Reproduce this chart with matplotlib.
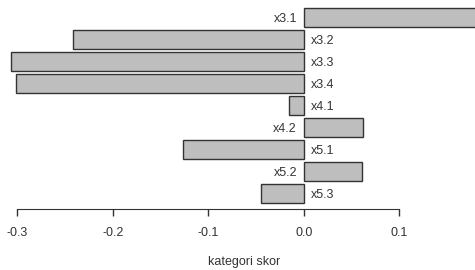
import matplotlib
matplotlib.use("Agg")
import matplotlib.pyplot as plt
import numpy as np

plt.rcParams['font.family'] = ['Liberation Sans', 'DejaVu Sans']

# category scores (top to bottom)
labels = ["x3.1", "x3.2", "x3.3", "x3.4", "x4.1", "x4.2", "x5.1", "x5.2", "x5.3"]
scores = [0.20, -0.242, -0.306, -0.301, -0.016, 0.062, -0.127, 0.061, -0.045]
ticks = [-0.3, -0.2, -0.1, 0.0, 0.1]

fig = plt.figure(figsize=(4.75, 2.7), dpi=100)
ax = fig.add_axes([0, 0, 1, 1])

pos = np.arange(len(labels))
ax.barh(pos, scores, height=0.84, color="#bebebe", edgecolor="#333333", linewidth=1.0)

for p, lab, v in zip(pos, labels, scores):
    if v >= 0:
        ax.annotate(lab, (0, p), xytext=(-5, -1), textcoords="offset points",
                    ha="right", va="center", fontsize=9, color="#333333")
    else:
        ax.annotate(lab, (0, p), xytext=(5, -1), textcoords="offset points",
                    ha="left", va="center", fontsize=9, color="#333333")

ax.set_xlim(-0.318, 0.179)
ax.set_ylim(11.477, -0.795)

for s in ["top", "left", "right"]:
    ax.spines[s].set_visible(False)
ax.spines["bottom"].set_position(("data", 8.70))
ax.spines["bottom"].set_bounds(-0.3, 0.1)
ax.spines["bottom"].set_color("#333333")
ax.set_xticks(ticks)
ax.set_xticklabels(["%.1f" % t for t in ticks])
ax.tick_params(axis="x", direction="out", length=5, width=1, color="#333333",
               labelsize=9, labelcolor="#333333", pad=8)
ax.set_yticks([])

fig.text(244 / 475, 1 - 262 / 270, "kategori skor", ha="center", va="center",
         fontsize=9, color="#333333")

fig.savefig("out.png", dpi=100)
